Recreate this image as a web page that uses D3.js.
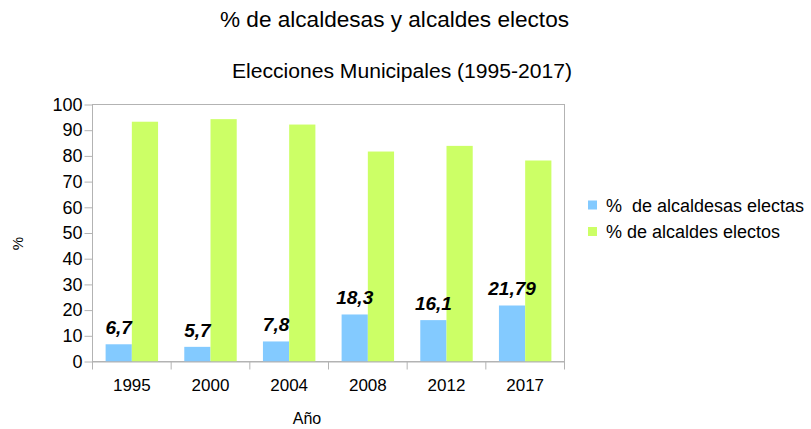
<!DOCTYPE html>
<html><head><meta charset="utf-8">
<script src="https://cdn.jsdelivr.net/npm/d3@7"></script>
<style>body{margin:0;background:#fff}svg{font-family:"Liberation Sans",Arial,sans-serif}</style>
</head><body><svg id="c" width="811" height="429"></svg>
<script>
const years = ["1995","2000","2004","2008","2012","2017"];
const alcaldesas = [6.7, 5.7, 7.8, 18.3, 16.1, 21.79];
const alcaldes = [93.3, 94.3, 92.2, 81.7, 83.9, 78.21];
const labels = ["6,7","5,7","7,8","18,3","16,1","21,79"];
const seriesNames = ["%  de alcaldesas electas", "% de alcaldes electos"];
const colors = ["#83caff", "#ccff66"];
const yTicks = [0,10,20,30,40,50,60,70,80,90,100];

const svg = d3.select("#c");
const L = 92.5, R = 564.5, T = 104.5, B = 361.5;
const x = d3.scaleBand().domain(years).range([L, R]).paddingInner(0).paddingOuter(0);
const y = d3.scaleLinear().domain([0, 100]).range([B, T]);
const gw = x.bandwidth() * 2 / 3;
const x1 = d3.scaleBand().domain([0,1]).range([0, gw]);

svg.append("text").attr("x", 394.5).attr("y", 26.5).attr("text-anchor", "middle").attr("font-size", 22.5)
  .attr("textLength", 349).attr("lengthAdjust", "spacingAndGlyphs").text("% de alcaldesas y alcaldes electos");
svg.append("text").attr("x", 402).attr("y", 78).attr("text-anchor", "middle").attr("font-size", 19.5)
  .attr("textLength", 340).attr("lengthAdjust", "spacingAndGlyphs").text("Elecciones Municipales (1995-2017)");

// frame
svg.append("rect").attr("x", L).attr("y", T).attr("width", R - L).attr("height", B - T).attr("fill", "none").attr("stroke", "#b3b3b3").attr("stroke-width", 1);

const data = [alcaldesas, alcaldes];
data.forEach((vals, s) => {
  svg.append("g").selectAll("rect").data(vals).join("rect")
    .attr("x", (d, i) => x(years[i]) + (x.bandwidth() - gw) / 2 + x1(s))
    .attr("y", d => y(d))
    .attr("width", x1.bandwidth())
    .attr("height", d => B - y(d))
    .attr("fill", colors[s]);
});

// y axis
const ya = svg.append("g").attr("transform", `translate(${L},0)`).call(d3.axisLeft(y).tickValues(yTicks).tickSize(8).tickPadding(2));
ya.selectAll("text").attr("font-size", 18).attr("fill", "#000").attr("font-family", "Liberation Sans, Arial, sans-serif");
ya.selectAll("line,path").attr("stroke", "#b3b3b3");
ya.select(".domain").remove();

// x axis
const xa = svg.append("g").attr("transform", `translate(0,${B})`).call(d3.axisBottom(x).tickSize(0).tickPadding(0));
xa.selectAll("text").attr("font-size", 17).attr("fill", "#000").attr("font-family", "Liberation Sans, Arial, sans-serif")
  .attr("dy", null).attr("y", 29.5);
xa.select(".domain").attr("stroke", "#b3b3b3");
const bounds = years.map(d => x(d)).concat([R]);
svg.append("g").selectAll("line").data(bounds).join("line")
  .attr("x1", d => d).attr("x2", d => d).attr("y1", B).attr("y2", B + 8).attr("stroke", "#b3b3b3");

// data labels
svg.append("g").selectAll("text").data(alcaldesas).join("text")
  .attr("x", (d, i) => x(years[i]) + (x.bandwidth() - gw) / 2 + x1.bandwidth() / 2)
  .attr("y", d => y(d) - 10)
  .attr("text-anchor", "middle").attr("font-size", 19).attr("font-weight", "bold").attr("font-style", "italic")
  .text((d, i) => labels[i]);

svg.append("text").attr("x", 307).attr("y", 424).attr("text-anchor", "middle").attr("font-size", 16).text("Año");
svg.append("text").attr("transform", "translate(22.5,243.5) rotate(-90)").attr("text-anchor", "middle").attr("font-size", 15).text("%");

// legend
const lg = svg.append("g");
seriesNames.forEach((n, i) => {
  lg.append("rect").attr("x", 588).attr("y", 200.5 + i * 26.5).attr("width", 9).attr("height", 9).attr("fill", colors[i]);
  lg.append("text").attr("x", 606).attr("y", 211.5 + i * 26).attr("font-size", 18).attr("xml:space", "preserve").style("white-space", "pre").text(n);
});
</script></body></html>
